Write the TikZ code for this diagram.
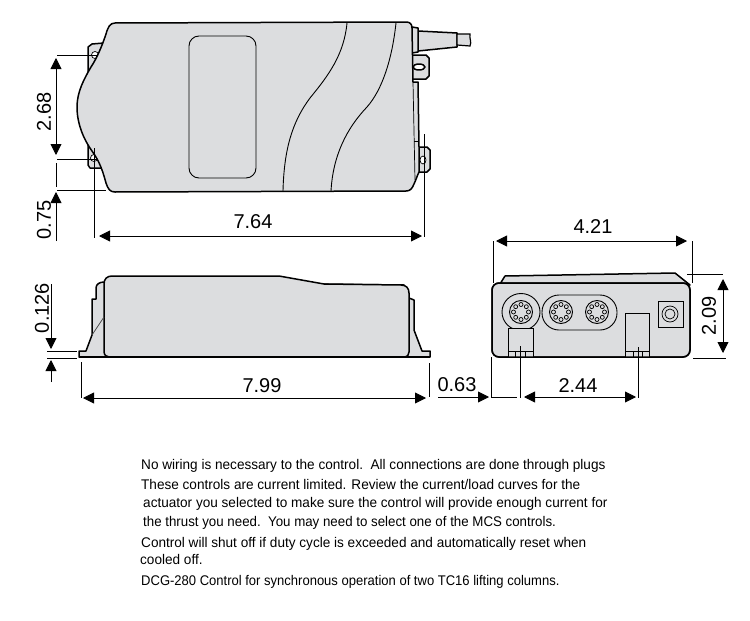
\documentclass[tikz,border=0pt]{standalone}
\usepackage{fontspec}
\setmainfont{Liberation Sans}
\newfontfamily\notefont[FakeStretch=0.97]{Liberation Sans}
\newfontfamily\notefontb[FakeStretch=0.95]{Liberation Sans}
\newfontfamily\notefontc[FakeStretch=0.93]{Liberation Sans}
\usetikzlibrary{arrows.meta}
\definecolor{bodygray}{HTML}{DCDDDF}
\tikzset{
  outline/.style={black,line width=1.5pt,line join=round},
  thinline/.style={black,line width=0.7pt},
  dimline/.style={black,line width=0.9pt},
  dimarrow/.style={black,line width=0.9pt,-{Triangle[length=11pt,width=11pt]}},
  dimboth/.style={black,line width=0.9pt,{Triangle[length=11pt,width=11pt]}-{Triangle[length=11pt,width=11pt]}},
  dimtext/.style={font=\fontsize{20}{20}\selectfont,inner sep=0pt},
  notetext/.style={font=\notefont\fontsize{14}{14}\selectfont,inner sep=0pt,anchor=base west}
}
\begin{document}
\begin{tikzpicture}[x=1pt,y=-1pt]
   \useasboundingbox (0,0) rectangle (750,621);
   % top view
   \draw[outline,fill=bodygray] (92,44) -- (104,43) -- (100,72) -- (88,72) -- (88,47) -- cycle;
   \draw[outline,fill=bodygray] (88,145) -- (100,145) -- (106,168) -- (90,168) -- (88,165) -- cycle;
   \draw[outline,fill=bodygray] (412,55) -- (426,55) -- (429,58) -- (429,76) -- (426,79) -- (412,79) -- cycle;
   \draw[outline,fill=bodygray] (419,147) -- (427,147) -- (430,150) -- (430,169) -- (427,172) -- (419,172) -- cycle;
   \draw[thinline,fill=white] (95,55) circle[radius=3.5];
   \draw[thinline,fill=white] (94,158) circle[radius=3.5];
   \draw[outline,fill=white] (419,67) ellipse[x radius=6,y radius=3];
   \draw[thinline,fill=white] (423,160) ellipse[x radius=3,y radius=4];
   % cable
   \draw[outline,fill=bodygray] (418,31) -- (457,33) -- (457,47) -- (418,51) -- cycle;
   \draw[thinline,fill=bodygray,line width=1.2pt] (457,34) -- (470,34) .. controls (469,38) and (472,42) .. (470,46) -- (457,45) -- cycle;
   \draw[outline,fill=bodygray] (412,27) -- (418,28) -- (418,52) -- (412,53) -- cycle;
   \draw[outline,fill=bodygray] (115,23) -- (406,22) .. controls (410,22) and (412,24) .. (412,28)
     -- (413,82) -- (418,82) -- (419,147) -- (419,172) .. controls (417,176) and (416,180) .. (414,184)
     .. controls (412,189) and (410,191) .. (406,191) -- (115,192)
     .. controls (110,192) and (108,189) .. (106,183) .. controls (103,172) and (100,162) .. (92,151)
     .. controls (84,140) and (77,124) .. (77,107) .. controls (77,92) and (84,79) .. (91,67)
     .. controls (97,58) and (102,46) .. (106,34) .. controls (108,27) and (110,23) .. (115,23) -- cycle;
   \draw[thinline] (413,82) -- (415,180);
   \draw[thinline] (414,141) -- (419,141);
   \draw[thinline,line width=0.9pt,rounded corners=10pt] (189,36) rectangle (256,178);
   \draw[thinline,line width=0.9pt] (347,23) .. controls (344,55) and (328,76) .. (310,98) .. controls (292,122) and (284,150) .. (283,191);
   \draw[thinline,line width=0.9pt] (396,23) .. controls (392,60) and (382,90) .. (367,107) .. controls (347,128) and (333,155) .. (331,191);
   % side view
   \draw[outline,fill=bodygray] (79,357) -- (79,351) -- (86,351) -- (92,335) -- (92,299) -- (96,299) -- (96,288) .. controls (96,284) and (100,282) .. (104,282) -- (404,285) -- (409,298) -- (414,300) -- (414,330) -- (422,351) -- (430,351) -- (430,357) -- cycle;
   \draw[outline,fill=bodygray] (279,276) -- (324,284) -- (401,285) .. controls (406,285) and (409,288) .. (409,293) -- (409,352) .. controls (409,355) and (407,357) .. (405,357) -- (109,357) .. controls (106,357) and (104,355) .. (104,351) -- (104,284) .. controls (104,279) and (107,276) .. (112,276) -- cycle;
   \draw[outline,line width=1.8pt] (79,357) -- (430,357);
   \draw[thinline,black!70] (92,335) -- (104,317);
   % front view
   \draw[outline,fill=bodygray] (500,284) -- (505,276) -- (675,273) -- (690,285) -- cycle;
   \draw[outline,fill=bodygray,rounded corners=7pt] (492,283) rectangle (690,357);
   \draw[thinline,line width=0.9pt] (521,312) ellipse[x radius=19,y radius=18.5];
   \draw[thinline,line width=0.9pt,rounded corners=17pt] (542,295) rectangle (617,330);
   \foreach \plugx in {521,561,597} {
     \draw[thinline,line width=0.9pt] (\plugx,312) circle[radius=11.5];
     \foreach \pinangle in {0,45,...,315} {
       \draw[thinline] (\plugx,312) ++(\pinangle:7.5) circle[radius=2];
     }
   }
   \draw[thinline,line width=0.9pt] (658,301) rectangle (683,327);
   \draw[thinline] (670,314) circle[radius=8];
   \draw[thinline] (670,314) circle[radius=5];
   \draw[thinline,line width=0.9pt,fill=bodygray] (508,357) rectangle (533,328);
   \draw[thinline] (508,351) -- (533,351);
   \draw[thinline] (515,351) -- (515,357);
   \draw[thinline] (525,351) -- (525,357);
   \draw[thinline,line width=0.9pt,fill=bodygray] (625,357) rectangle (649,313);
   \draw[thinline] (625,351) -- (649,351);
   \draw[thinline] (633,351) -- (633,357);
   \draw[thinline] (642,351) -- (642,357);
   \draw[outline,rounded corners=7pt] (492,283) rectangle (690,357);
   % dimensions, top view
   \draw[dimline] (57,55) -- (98,55);
   \draw[dimline] (57,159) -- (98,159);
   \draw[dimline] (57,190) -- (106,190);
   \draw[dimline] (56,163) -- (56,187);
   \draw[dimboth] (56,58) -- (56,155);
   \draw[dimarrow] (56,241) -- (56,192);
   \draw[dimline] (94,148) -- (94,238);
   \draw[dimline] (424,134) -- (424,237);
   \draw[dimboth] (99,236) -- (422,236);
   \node[dimtext,rotate=90] (lblheight) at (44,112) {2.68};
   \node[dimtext,rotate=90] (lbloffset) at (44,220) {0.75};
   \node[dimtext] (lbllength) at (253,222) {7.64};
   % dimensions, side view
   \draw[dimline] (47,351) -- (77,351);
   \draw[dimline] (47,358) -- (77,358);
   \draw[dimarrow] (51,284) -- (51,349);
   \draw[dimarrow] (51,382) -- (51,360);
   \draw[dimline] (81,362) -- (81,398);
   \draw[dimline] (429,363) -- (429,397);
   \draw[dimboth] (83,398) -- (426,398);
   \node[dimtext,rotate=90] (lblflange) at (42,308) {0.126};
   \node[dimtext] (lblbase) at (262,386) {7.99};
   % dimensions, front view
   \draw[dimline] (493,241) -- (493,283);
   \draw[dimline] (692,241) -- (692,283);
   \draw[dimboth] (496,241) -- (687,241);
   \node[dimtext] (lblwidth) at (593,227) {4.21};
   \draw[dimline] (687,274) -- (723,274);
   \draw[dimline] (693,358) -- (726,358);
   \draw[dimboth] (723,279) -- (723,353);
   \node[dimtext,rotate=90] (lblthick) at (709,316) {2.09};
   \draw[dimline] (491,357) -- (491,398);
   \draw[dimline] (520,346) -- (520,398);
   \draw[dimline] (638,347) -- (638,398);
   \draw[dimline] (492,397) -- (517,397);
   \draw[dimboth] (524,397) -- (636,397);
   \draw[dimarrow] (438,397) -- (489,397);
   \node[dimtext] (lblgap) at (457,385) {0.63};
   \node[dimtext] (lblplugs) at (578,386) {2.44};
   % notes
   \node[notetext] (noteone) at (141,469) {No wiring is necessary to the control.\ \ All connections are done through plugs};
   \node[notetext] (notetwo) at (141,489) {These controls are current limited. Review the current/load curves for the};
   \node[notetext] (notethree) at (143,507) {actuator you selected to make sure the control will provide enough current for};
   \node[notetext] (notefour) at (143,526) {\notefontb the thrust you need.\ \ You may need to select one of the MCS controls.};
   \node[notetext] (notefive) at (141,547) {Control will shut off if duty cycle is exceeded and automatically reset when};
   \node[notetext] (notesix) at (140,564) {cooled off.};
   \node[notetext] (noteseven) at (141,585) {\notefontc DCG-280 Control for synchronous operation of two TC16 lifting columns.};
\end{tikzpicture}
\end{document}
